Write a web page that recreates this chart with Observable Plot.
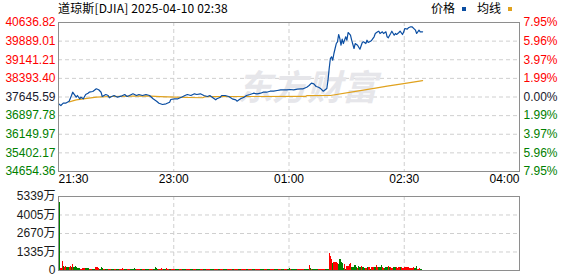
<!DOCTYPE html>
<html><head><meta charset="utf-8">
<script src="https://cdn.jsdelivr.net/npm/d3@7"></script>
<script src="https://cdn.jsdelivr.net/npm/@observablehq/plot@0.6"></script>
<style>
html,body{margin:0;padding:0;background:#fff;}
#wrap{position:relative;width:578px;height:276px;overflow:hidden;background:#fff;}
.t{position:absolute;font-family:"Noto Sans CJK SC",sans-serif;font-size:12px;line-height:12px;color:#000;white-space:nowrap;}
.sq{position:absolute;width:4px;height:4px;}
#p,#v{position:absolute;left:0;}
#p{top:0;} #v{top:190px;}
</style>
</head><body>
<div id="wrap">
  <div id="p"></div>
  <div id="v"></div>
  <div class="t" id="title" style="left:58px;top:2px;letter-spacing:0.15px;"></div>
  <div class="t" id="lg1" style="left:431px;top:2px;"></div>
  <div class="sq" id="sq1" style="left:462px;top:7px;"></div>
  <div class="t" id="lg2" style="left:477px;top:2px;"></div>
  <div class="sq" id="sq2" style="left:508px;top:7px;"></div>
</div>
<script>
// ---- data ----
const titleText = "道琼斯[DJIA] 2025-04-10 02:38";
const legendLabels = ["价格", "均线"];
const prevClose = 37645.59;
const priceTicks = [40636.82, 39889.01, 39141.21, 38393.40, 37645.59, 36897.78, 36149.97, 35402.17, 34654.36];
const pctLabels = ["7.95%", "5.96%", "3.97%", "1.99%", "0.00%", "1.99%", "3.97%", "5.96%", "7.95%"];
const timeLabels = ["21:30", "23:00", "01:00", "02:30", "04:00"];
const timeTickPos = [0, 97.5, 195, 292.5, 390]; // minutes after 21:30 where labels sit
const sessionMinutes = 390;

const priceMinutes = [0,2,4,6,9,11,12,13,15,16,18,19,21,23,25,26,29,32,34,36,37,40,42,43,45,47,50,53,56,58,60,63,66,68,71,74,77,80,83,85,88,91,94,95,98,101,104,107,109,112,115,117,120,123,126,128,130,133,134,137,138,141,144,147,150,151,154,157,159,162,165,168,171,173,176,179,182,185,188,190,193,196,199,202,205,207,210,212,214,216,218,220,222,224,227,228,229,230,231,232,233,234,235,236,237,238,239,240,241,243,244,245,247,248,250,251,253,255,257,258,260,261,262,264,265,267,268,270,271,272,274,275,277,278,279,281,282,284,285,286,288,289,291,292,293,295,296,298,299,300,302,303,305,306,308];
const prices = [37373,37304,37397,37397,37477,37706,37838,37774,37638,37706,37573,37638,37573,37746,37798,37838,37866,37975,37935,37838,37666,37746,37706,37613,37666,37706,37638,37678,37746,37666,37706,37774,37706,37746,37706,37746,37706,37573,37477,37397,37344,37373,37437,37545,37573,37573,37638,37706,37746,37706,37774,37746,37774,37706,37666,37706,37638,37533,37573,37638,37706,37706,37666,37573,37533,37477,37573,37638,37706,37746,37798,37774,37798,37838,37838,37878,37878,37907,37935,37935,37935,37947,37935,37959,37975,37975,38039,38107,38200,38175,38067,38039,37975,37878,37987,38320,38790,39191,39260,39123,39392,39593,39793,39862,40155,39994,39725,39966,39793,40063,39926,40235,40126,39926,39593,39793,39725,39565,39834,39862,39793,39926,39834,39886,39926,40063,40195,40263,40287,40195,40263,40195,40263,40063,40022,40195,40287,40126,40195,40155,40235,40287,40155,40251,40396,40368,40424,40464,40464,40424,40328,40195,40328,40263,40263];

const avgMinutes = [9,12,15,21,32,44,63,74,86,99,110,122,124,209,210,230,250,267,278,292,308];
const avgPrices = [37445,37490,37533,37573,37638,37666,37678,37690,37660,37638,37625,37615,37660,37670,37700,37706,37860,37995,38079,38180,38300];

const volTicks = [0, 1335, 2670, 4005, 5339];
const volTickLabels = ["0", "1335万", "2670万", "4005万", "5339万"];
// volume per minute (万), minute 0..307
const volume = [
0,4875,180,625,310,250,310,190,190,250,
310,190,430,250,265,190,144,144,144,100,
144,144,144,144,144,144,72,72,72,72,
72,250,250,250,144,72,250,144,72,72,
72,72,72,72,72,72,72,72,72,72,
72,72,72,72,160,72,72,72,72,72,
72,72,72,72,160,72,72,72,72,72,
72,72,72,72,72,72,72,72,72,72,
72,72,190,120,72,72,72,120,72,72,
72,160,72,72,72,72,72,72,72,72,
72,72,72,72,72,72,72,72,72,72,
72,72,72,72,72,72,72,72,72,72,
72,72,72,72,72,72,72,72,72,72,
72,72,72,72,72,72,72,72,72,72,
72,72,72,72,72,72,72,72,72,72,
72,72,72,72,72,72,72,72,72,72,
72,72,72,72,72,72,72,72,72,72,
72,72,72,72,72,72,72,72,72,72,
72,72,72,72,72,72,72,72,72,72,
72,72,72,72,72,150,72,72,72,72,
72,72,72,72,72,72,72,72,72,72,
72,72,360,120,72,72,72,72,72,72,
72,72,72,72,72,72,72,72,72,1224,
1008,816,480,600,600,600,480,432,792,600,
480,120,432,72,288,288,432,528,192,192,
360,360,192,120,288,240,288,240,192,120,
120,192,192,192,72,192,192,240,192,336,
192,192,240,336,192,120,120,240,192,288,
192,192,120,192,192,240,192,120,240,192,
192,120,120,240,192,192,192,120,120,120,
192,120,120,288,72,120,72,72];
// r = up minute, g = down minute
const volumeDir = (
"ggrrgrrggr"+"rgrggggggr"+"rrrgggrrrg"+"grrrrgggrr"+"ggrrrggrrg"+
"ggrrrrggrr"+"rgggggrrrg"+"grrrgggrrr"+"gggggrrrrg"+"grrrggrrrg"+
"ggrrrgggrr"+"rrggrrrggg"+"rrrggrrrrg"+"ggrrrggrrr"+"gggrrrrggr"+
"rrgggrrrrg"+"grrrgggrrr"+"rgggrrrggr"+"rrrgggrrrg"+"grrrggrggg"+
"ggrrrrrrgg"+"ggrgrggggg"+"rrrrrrgggr"+"rrgrrrrggg"+"ggrgrrrrgg"+
"gggrggrggg"+"rgrrgrrggr"+"rgggrrgggr"+"grrgggrrrg"+"rrrrrrrrrr"+
"rgggrrgg").split("");

// ---- styling ----
const RED = "#ff0000", GREEN = "#008000", DARK = "#1a1a2e";
const BLUE = "#0b4ea2", GOLD = "#e0a21e";
const GRID = "#cfcfcf", FRAME = "#8e8e8e";
const font = '"Liberation Sans", Arial, sans-serif';
const levelColor = v => v > prevClose + 0.001 ? RED : (v < prevClose - 0.001 ? GREEN : DARK);

document.getElementById("title").textContent = titleText;
document.getElementById("lg1").textContent = legendLabels[0];
document.getElementById("lg2").textContent = legendLabels[1];
document.getElementById("sq1").style.background = BLUE;
document.getElementById("sq2").style.background = GOLD;

const pricePts = priceMinutes.map((m, i) => ({m, p: prices[i]}));
const avgPts = avgMinutes.map((m, i) => ({m, p: avgPrices[i]}));
const innerTicks = timeTickPos.slice(1, -1);

const pricePlot = Plot.plot({
  width: 578, height: 190,
  marginLeft: 58, marginRight: 59, marginTop: 22, marginBottom: 19,
  x: {domain: [0, sessionMinutes], axis: null},
  y: {domain: [priceTicks[priceTicks.length - 1], priceTicks[0]], axis: null},
  color: {type: "identity"},
  style: {fontFamily: font, fontSize: "12px", background: "transparent", overflow: "visible"},
  marks: [
    Plot.ruleY(priceTicks.slice(1, -1), {stroke: GRID, strokeDasharray: "4,3"}),
    Plot.ruleX(innerTicks, {stroke: GRID, strokeDasharray: "4,3"}),
    Plot.text(["东方财富"], {frameAnchor: "middle", dx: 18, dy: -8, fill: "#e6e6ea",
      fontSize: 35, fontWeight: "bold", fontStyle: "italic", fontFamily: '"Noto Sans CJK SC"'}),
    Plot.line(avgPts, {x: "m", y: "p", stroke: GOLD, strokeWidth: 1.2}),
    Plot.line(pricePts, {x: "m", y: "p", stroke: BLUE, strokeWidth: 1.2}),
    Plot.frame({stroke: FRAME}),
    Plot.text(priceTicks, {y: d => d, text: d => d.toFixed(2), frameAnchor: "left", textAnchor: "end", dx: -3, fill: d => levelColor(d)}),
    Plot.text(pctLabels, {y: (d, i) => priceTicks[i], text: d => d, frameAnchor: "right", textAnchor: "start", dx: 4, fill: (d, i) => levelColor(priceTicks[i])}),
    Plot.text(timeLabels.slice(0, 1), {x: (d, i) => timeTickPos[i], text: d => d, frameAnchor: "bottom", textAnchor: "start", dy: 11, fill: "#000"}),
    Plot.text(timeLabels.slice(1, -1), {x: (d, i) => timeTickPos[i + 1], text: d => d, frameAnchor: "bottom", textAnchor: "middle", dy: 11, fill: "#000"}),
    Plot.text(timeLabels.slice(-1), {x: () => timeTickPos[timeTickPos.length - 1], text: d => d, frameAnchor: "bottom", textAnchor: "end", dy: 11, fill: "#000"})
  ]
});
document.getElementById("p").appendChild(pricePlot);

const volIdx = volume.map((_, i) => i);
const volPlot = Plot.plot({
  width: 578, height: 86,
  marginLeft: 58, marginRight: 59, marginTop: 6, marginBottom: 6,
  x: {domain: [0, sessionMinutes], axis: null},
  y: {domain: [0, volTicks[volTicks.length - 1]], axis: null},
  color: {type: "identity"},
  style: {fontFamily: font, fontSize: "12px", background: "transparent", overflow: "visible"},
  marks: [
    Plot.ruleY(volTicks.slice(1, -1), {stroke: GRID, strokeDasharray: "4,3"}),
    Plot.ruleX(innerTicks, {stroke: GRID, strokeDasharray: "4,3"}),
    Plot.rect(volIdx.filter(i => volume[i] > 0), {x1: i => i, x2: i => i + 1, y1: 0, y2: i => volume[i],
      fill: i => volumeDir[i] === "r" ? RED : GREEN, shapeRendering: "crispEdges"}),
    Plot.frame({stroke: FRAME}),
    Plot.text(volTickLabels, {y: (d, i) => volTicks[i], text: d => d, frameAnchor: "left", textAnchor: "end", dx: -3, fill: "#1a1a1a",
      fontFamily: '"Liberation Sans", "Noto Sans CJK SC", sans-serif'})
  ]
});
document.getElementById("v").appendChild(volPlot);
</script>
</body></html>
